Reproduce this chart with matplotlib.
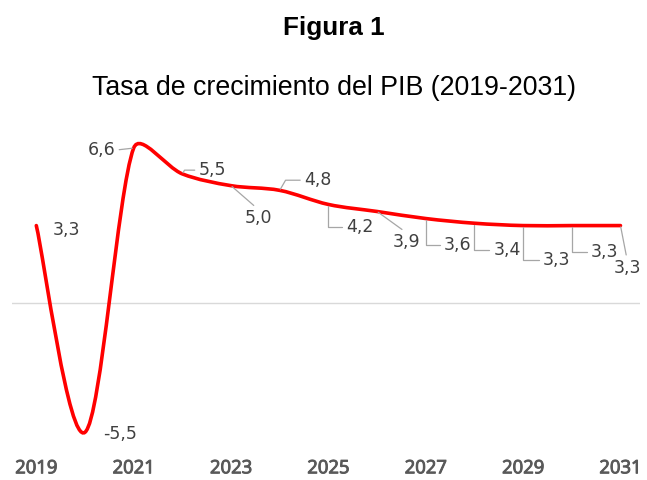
import numpy as np
import matplotlib.pyplot as plt
import matplotlib.patheffects as pe
from matplotlib.path import Path
from matplotlib.patches import PathPatch

years = [2019, 2020, 2021, 2022, 2023, 2024, 2025, 2026, 2027, 2028, 2029, 2030, 2031]
pib = [3.3, -5.5, 6.6, 5.5, 5.0, 4.8, 4.2, 3.9, 3.6, 3.4, 3.3, 3.3, 3.3]
labels = ['3,3', '-5,5', '6,6', '5,5', '5,0', '4,8', '4,2', '3,9', '3,6', '3,4', '3,3', '3,3', '3,3']
xticks = [2019, 2021, 2023, 2025, 2027, 2029, 2031]

# label placement: (dx, dy) in points, leader style
ang_down = 'angle,angleA=0,angleB=90,rad=0'
ang_up = 'angle,angleA=0,angleB=60,rad=0'
place = [
    ((21.6, -3.3), None, None),
    ((25.0, -1.5), None, None),
    ((-23.4, -1.5), 'arc3', (1, 0.5)),
    ((21.8, 2.7), ang_up, (0, 0.5)),
    ((19.4, -23.4), 'arc3', (0.5, 1)),
    ((27.6, 7.3), ang_up, (0, 0.5)),
    ((22.7, -16.2), ang_down, (0, 0.5)),
    ((21.5, -22.0), 'arc3', (0.5, 1)),
    ((23.0, -19.0), ang_down, (0, 0.5)),
    ((23.6, -19.4), ang_down, (0, 0.5)),
    ((24.1, -24.8), ang_down, (0, 0.5)),
    ((23.6, -19.0), ang_down, (0, 0.5)),
    ((4.7, -30.6), 'arc3', (0.5, 1)),
]

fig = plt.figure(figsize=(6.47, 4.8), dpi=100)
ax = fig.add_axes([0.0185, 0.075, 0.9706, 0.685])
ax.set_xlim(2018.5, 2031.4)
ax.set_ylim(-6, 8)

# smoothed line (bezier like Excel's smoothed line, with clamped handles)
pts = ax.transData.transform(np.column_stack([years, pib]))
n = len(pts)
tang = []
for i in range(n):
    a = pts[max(i - 1, 0)]
    b = pts[min(i + 1, n - 1)]
    tang.append((b - a) / 6)
verts = [pts[0]]
codes = [Path.MOVETO]
for i in range(n - 1):
    seg = np.hypot(*(pts[i + 1] - pts[i]))
    t1, t2 = tang[i], tang[i + 1]
    l1, l2 = np.hypot(*t1), np.hypot(*t2)
    if l1 > seg / 3:
        t1 = t1 * (seg / 3) / l1
    if l2 > seg / 3:
        t2 = t2 * (seg / 3) / l2
    verts += [pts[i] + t1, pts[i + 1] - t2, pts[i + 1]]
    codes += [Path.CURVE4] * 3
verts = ax.transData.inverted().transform(np.array(verts))
ax.add_patch(PathPatch(Path(verts, codes), fill=False, edgecolor='#ff0000',
                       lw=2.6, zorder=3, capstyle='round'))

ax.axhline(0, color='#d9d9d9', lw=1, zorder=1)

for xi, yi, lab, (off, style, rel) in zip(years, pib, labels, place):
    kw = {}
    if style is not None:
        kw['arrowprops'] = dict(arrowstyle='-', color='#a6a6a6', lw=0.9,
                                connectionstyle=style, relpos=rel,
                                shrinkA=1, shrinkB=1)
    ax.annotate(lab, xy=(xi, yi), xytext=off, textcoords='offset points',
                ha='center', va='center', fontsize=12.5, color='#404040',
                zorder=4, **kw)

ax.set_xticks(xticks)
ticklabs = ax.set_xticklabels([str(t) for t in xticks], fontsize=13.3,
                              family='Open Sans', color='#595959')
for t in ticklabs:
    t.set_path_effects([pe.withStroke(linewidth=0.7, foreground='#595959')])
ax.tick_params(axis='x', length=0, pad=11)
ax.set_yticks([])
for s in ax.spines.values():
    s.set_visible(False)

fig.text(0.516, 1 - 28 / 480, 'Figura 1', ha='center', va='center',
         fontsize=18.7, fontweight='bold', family='Liberation Sans')
fig.text(0.517, 1 - 88 / 480, 'Tasa de crecimiento del PIB (2019-2031)',
         ha='center', va='center', fontsize=19.3, family='Liberation Sans')

fig.savefig('out.png', dpi=100)
